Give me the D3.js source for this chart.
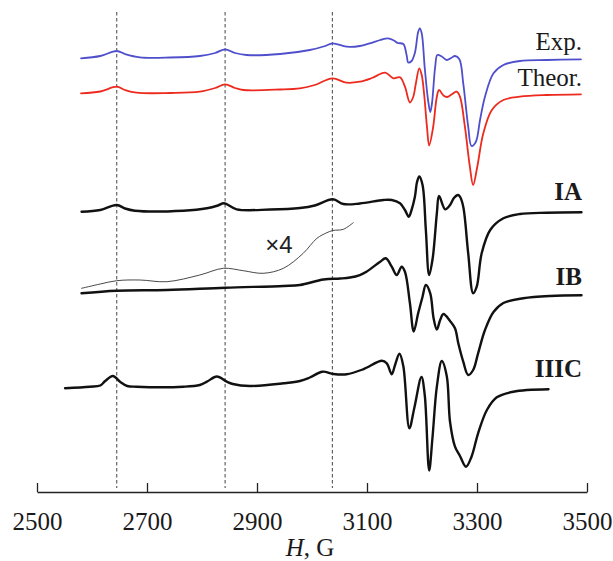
<!DOCTYPE html>
<html>
<head>
<meta charset="utf-8">
<script src="https://cdn.jsdelivr.net/npm/d3@7"></script>
<style>
  html, body { margin: 0; padding: 0; background: #fff; }
  svg { display: block; }
</style>
</head>
<body>
<svg id="chart" width="613" height="561"></svg>
<script>
// ---- Data (magnetic field H in G, signal in arbitrary stacked units) ----
const tickValues = [2500, 2700, 2900, 3100, 3300, 3500];
const markerFields = [2645, 2842, 3037];

const fieldExp = [2580,2615,2645,2660,2687,2742,2796,2824,2842,2860,2881,2942,2996,3024,3037,3063,3087,3105,3124,3138,3149,3156,3166,3172,3175,3181,3187,3193,3196,3199.5,3205,3211,3215,3218,3224,3228,3236,3245,3253,3260,3268,3275,3284,3290,3298,3305.5,3314.5,3330,3348,3378,3427,3489];
const signalExp = [441.7,444,449,446,442.7,442.5,444,447,450.7,447,445,446,450,454,456.7,453.3,454,456.7,460,461.7,459.5,457,456,445,437.5,439,447,468,471.7,466.7,432,400,388,396,433.3,445,443.5,440,442,444,440.7,416.7,373.3,354,358.3,380,403.3,426.7,435,439,440,440.7];

const fieldTheor = [2580,2615,2645,2660,2681,2742,2796,2824,2842,2860,2875,2942,2978,3005,3037,3063,3087,3109,3133,3148,3160,3169,3178,3184,3189,3195,3199.5,3204,3209,3213,3220,3227,3231,3239,3245.5,3255,3263,3269,3278,3287,3293,3300.5,3311.5,3327,3348,3378,3427,3489];
const signalTheor = [406.7,408.5,413.3,410,407.3,407,408.3,412,415.7,412,410,410.5,411.7,415,421.7,417.3,418.3,422,427.3,421.7,422.7,413.3,397.5,403,417,431.7,425,405,373.3,354.5,372,403.3,410,404.5,403,406,408.3,403.3,373.3,333.3,315,333.3,366.7,390,400,403.3,405,405.7];

const fieldIA = [2581,2615,2645,2660,2678,2766,2809,2829,2840,2863,2924,2978,3005,3038,3057,3087,3130,3145,3160,3169,3176,3181,3187,3191,3195,3201,3207,3213,3219.5,3227,3231,3242,3251,3258,3265.5,3269,3275,3284,3293,3299.5,3308.5,3324,3348,3378,3427,3490];
const signalIA = [288.3,290,295,291.5,289.3,289.3,291.7,294.5,296.7,290.7,290.5,292,294.5,300.7,296,296.5,300,300,296.7,290,283.3,290,303,318,323.5,315,270,225,242,286.7,304,290.7,295,302,305,303.3,293.3,246.7,206.7,213.3,246.7,270,281.7,286,287.3,287.7];

const fieldIB = [2581,2645,2736,2842,2948,2978,3021,3051,3069,3087,3099,3124,3134,3145,3154,3163,3169,3178,3185,3193,3201,3207,3215,3221,3227,3233,3239,3251,3260,3266,3275,3284,3293,3302,3314.5,3330,3348,3384,3433,3490];
const signalIB = [206.7,209.3,210,212.3,214,215,220.5,221.5,222.5,225,228.3,238.3,241.7,233.3,225,233.3,228.3,197,168.5,186.7,203.3,215,206.7,182,170.5,180,186,179,171.7,156.7,138.3,125,130,146.7,170,188,197,201.7,204,204.7];

const fieldIBx4 = [2581,2615,2645,2687,2736,2796,2839,2875,2911,2948,2984,3009,3027,3038,3057,3075];
const signalIBx4 = [211.7,216,219.3,220,218.3,225,231.7,229.3,226.7,231.7,246.7,261.7,267.3,269.5,270.7,277.3];

const fieldIIIC = [2551,2596,2615,2624,2638,2651,2664,2681,2766,2796,2809,2827,2845,2856,2887,2948,2978,2996,3019,3039,3063,3093,3127,3136,3145,3151,3159,3166,3177,3186,3199,3205,3213,3219,3227,3236,3245,3251,3260,3269,3280,3290,3302,3318,3336,3366,3430];
const signalIIIC = [111.7,113.3,114.5,119,124,118.3,114,113.3,113.3,115,118.3,123.5,118.3,116,114,116.7,119,122.5,128.3,126,125.7,130.7,139.2,136.7,125.8,135,146.2,134,71.7,92,123,105,29.5,62,113.3,139,124,78,53.3,44,33.3,43.3,66.7,90,102.7,108.3,110.7];

const seriesNames = ["Exp.", "Theor.", "IA", "IB", "IIIC"];

// ---- Layout ----
const svg = d3.select("#chart");
const axisY = 492;

const x = d3.scaleLinear().domain([2500, 3500]).range([37, 587]);
const y = d3.scaleLinear().domain([0, 500]).range([500, 0]);

const line = d3.line()
  .x(d => x(d[0]))
  .y(d => y(d[1]))
  .curve(d3.curveCatmullRom.alpha(0.5));

const zip = (a, b) => a.map((v, i) => [v, b[i]]);

// dashed marker lines
svg.append("g").selectAll("line")
  .data(markerFields)
  .join("line")
  .attr("x1", d => x(d)).attr("x2", d => x(d))
  .attr("y1", 12).attr("y2", 488)
  .attr("stroke", "#444")
  .attr("stroke-width", 1)
  .attr("stroke-dasharray", "3.5,2.5");

const traces = [
  { f: fieldExp, s: signalExp, color: "#4f4fcc", w: 1.8 },
  { f: fieldTheor, s: signalTheor, color: "#ec2a1e", w: 1.8 },
  { f: fieldIA, s: signalIA, color: "#111", w: 2.4 },
  { f: fieldIB, s: signalIB, color: "#111", w: 2.4 },
  { f: fieldIBx4, s: signalIBx4, color: "#333", w: 0.9 },
  { f: fieldIIIC, s: signalIIIC, color: "#111", w: 2.4 }
];

svg.append("g").selectAll("path")
  .data(traces)
  .join("path")
  .attr("d", d => line(zip(d.f, d.s)))
  .attr("fill", "none")
  .attr("stroke", d => d.color)
  .attr("stroke-width", d => d.w)
  .attr("stroke-linejoin", "round")
  .attr("stroke-linecap", "round");

// labels
const labelBaselines = [50, 86, 200, 285, 377];
svg.append("g").selectAll("text")
  .data(seriesNames)
  .join("text")
  .attr("x", 582)
  .attr("y", (d, i) => labelBaselines[i])
  .attr("text-anchor", "end")
  .attr("font-family", "'Liberation Serif', 'Times New Roman', serif")
  .attr("font-size", 25)
  .attr("font-weight", (d, i) => i >= 2 ? "bold" : "normal")
  .attr("fill", "#1a1a1a")
  .text(d => d);

svg.append("text")
  .attr("x", 279).attr("y", 253)
  .attr("text-anchor", "middle")
  .attr("font-family", "'Liberation Sans', Arial, sans-serif")
  .attr("font-size", 24)
  .attr("fill", "#222")
  .text("×4");

// axis
const axis = d3.axisBottom(x)
  .tickValues(tickValues)
  .tickFormat(d3.format("d"))
  .tickSizeInner(-9)
  .tickSizeOuter(0)
  .tickPadding(20);

const gAxis = svg.append("g")
  .attr("transform", `translate(0,${axisY})`)
  .call(axis);
gAxis.select(".domain").attr("stroke", "#222").attr("stroke-width", 1.3);
gAxis.selectAll(".tick line").attr("stroke", "#222").attr("stroke-width", 1.3);
gAxis.selectAll(".tick text")
  .attr("font-family", "'Liberation Serif', 'Times New Roman', serif")
  .attr("font-size", 25)
  .attr("fill", "#1a1a1a");

const title = svg.append("text")
  .attr("x", 310).attr("y", 556)
  .attr("text-anchor", "middle")
  .attr("font-family", "'Liberation Serif', 'Times New Roman', serif")
  .attr("font-size", 25)
  .attr("fill", "#1a1a1a");
title.append("tspan").attr("font-style", "italic").text("H");
title.append("tspan").text(", G");
</script>
</body>
</html>
